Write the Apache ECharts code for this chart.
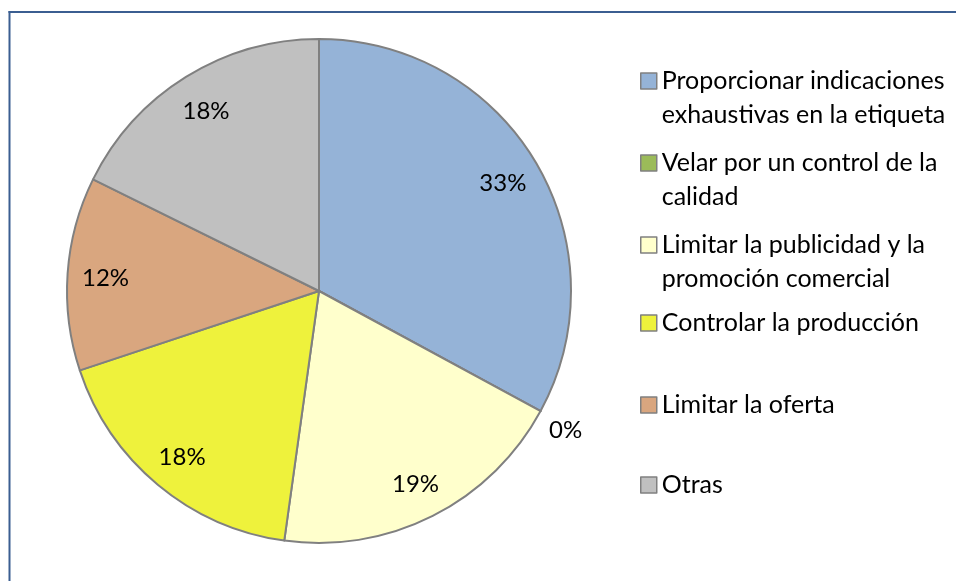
<!DOCTYPE html>
<html>
<head>
<meta charset="utf-8">
<script src="https://cdn.jsdelivr.net/npm/echarts@6/dist/echarts.min.js"></script>
<style>
  html, body { margin: 0; padding: 0; background: #fff; overflow: hidden; }
  #chart { width: 956px; height: 581px; }
</style>
</head>
<body>
<div id="chart"></div>
<script>
// categories (legend text, with the line breaks of the original)
const categories = [
  'Proporcionar indicaciones\nexhaustivas en la etiqueta',
  'Velar por un control de la\ncalidad',
  'Limitar la publicidad y la\npromoción comercial',
  'Controlar la producción',
  'Limitar la oferta',
  'Otras'
]
// shares (percent)
const values = [32.9, 0, 19.3, 17.7, 12.4, 17.7]
const colors = ['#95b3d7', '#9bbb59', '#ffffcc', '#eef23c', '#d9a67f', '#c0c0c0']

// legend icon tops (layout only)
const legendTops = [73, 155, 237, 315, 397, 477]

const FONT = 'Lato'
const LINE_H = 34

const chart = echarts.init(document.getElementById('chart'))

// main pie: slices, plus the outside label of the empty slice
const pieData = categories.map((name, i) => ({
  name,
  value: values[i],
  itemStyle: { color: colors[i] },
  label: values[i] === 0
    ? { show: true, position: 'outside', formatter: '\n{d}%', lineHeight: LINE_H }
    : { show: false }
}))

// transparent ring that carries the inner labels further out
const ringData = categories.map((name, i) => ({
  name,
  value: values[i],
  label: { show: values[i] !== 0 }
}))

const legends = categories.map((name, i) => {
  const twoLines = name.indexOf('\n') >= 0
  return {
    data: [name],
    orient: 'vertical',
    left: 640,
    top: legendTops[i] - (twoLines ? 43 : 9),
    padding: 0,
    itemWidth: 16,
    itemHeight: 16,
    icon: 'rect',
    selectedMode: false,
    itemStyle: { borderColor: '#808080', borderWidth: 1.5 },
    // empty first line so the first text line sits level with the icon
    formatter: n => (n.indexOf('\n') >= 0 ? '\n' + n : n),
    textStyle: {
      fontFamily: FONT,
      fontSize: 25,
      color: '#000',
      lineHeight: LINE_H
    }
  }
})

// chart frame: only its left and top edges are inside the picture
const frameStyle = { stroke: '#3b5e91', lineWidth: 2 }

chart.setOption({
  animation: false,
  backgroundColor: '#fff',
  graphic: [
    { type: 'line', silent: true, shape: { x1: 9.5, y1: 11, x2: 9.5, y2: 581 }, style: frameStyle },
    { type: 'line', silent: true, shape: { x1: 8.5, y1: 12, x2: 956, y2: 12 }, style: frameStyle }
  ],
  legend: legends,
  series: [
    {
      type: 'pie',
      center: [319, 291],
      radius: 252,
      startAngle: 90,
      clockwise: true,
      percentPrecision: 0,
      avoidLabelOverlap: false,
      itemStyle: { borderColor: '#808080', borderWidth: 2 },
      label: {
        fontFamily: FONT,
        fontSize: 24,
        color: '#000'
      },
      labelLine: { show: false, length: 4, length2: 0 },
      emphasis: { disabled: true },
      data: pieData
    },
    {
      type: 'pie',
      center: [319, 293],
      radius: [170, 252],
      startAngle: 90,
      clockwise: true,
      percentPrecision: 0,
      silent: true,
      legendHoverLink: false,
      itemStyle: { color: 'rgba(0,0,0,0)', borderWidth: 0 },
      label: {
        position: 'inside',
        formatter: '{d}%',
        fontFamily: FONT,
        fontSize: 24,
        color: '#000'
      },
      labelLine: { show: false },
      emphasis: { disabled: true },
      data: ringData
    }
  ]
})
</script>
</body>
</html>
